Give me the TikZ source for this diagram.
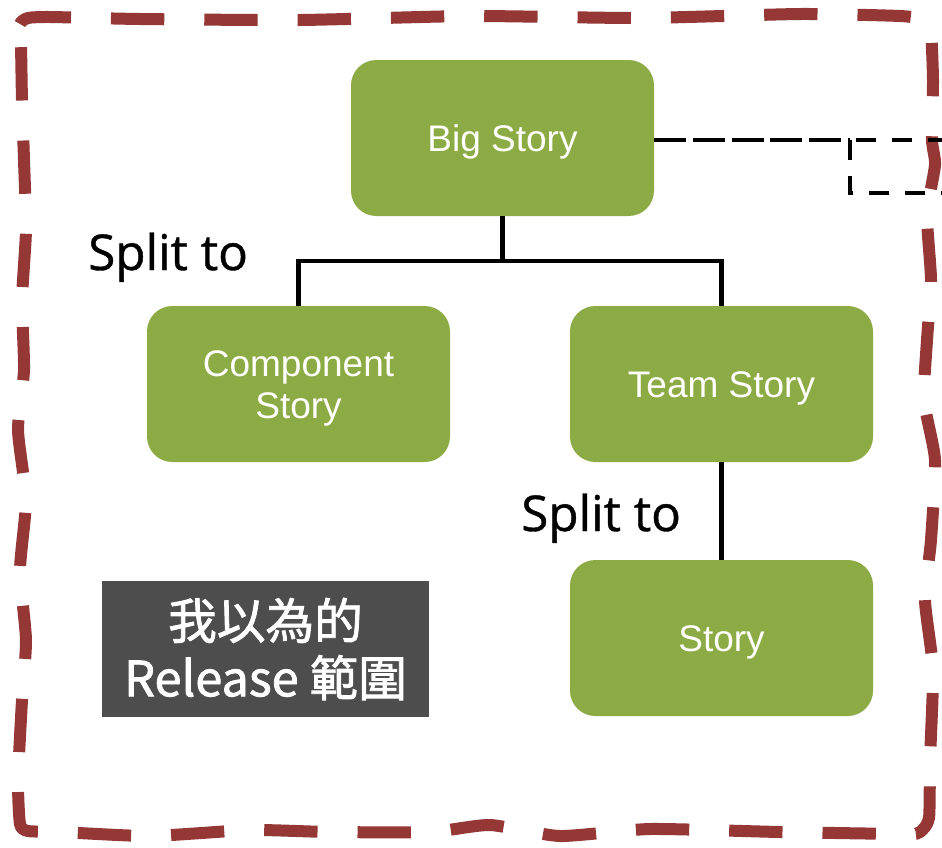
\documentclass[tikz,border=0pt]{standalone}
\usepackage{fontspec}
\setmainfont{Liberation Sans}
\newfontfamily\splitfont[FakeBold=0.8]{Open Sans}
\newfontfamily\cjkfont[FakeBold=1.6]{Noto Sans CJK TC}
\definecolor{storygreen}{HTML}{8CAB44}
\definecolor{borderred}{HTML}{953735}
\definecolor{relgray}{HTML}{4D4D4D}
\tikzset{
  storybox/.style={draw=none, fill=storygreen, rounded corners=19pt, minimum width=227.25pt,
    minimum height=117pt, inner sep=0pt, align=center, text=white,
    text height=19.6pt, text depth=0pt,
    font=\fontsize{27.75}{31.5}\selectfont},
  conn/.style={line width=3.4pt, black},
  dashconn/.style={line width=3.4pt, black, dash pattern=on 24pt off 5pt},
  dashframe/.style={line width=3.4pt, black, dash pattern=on 15pt off 12pt},
  splitlbl/.style={inner sep=0pt, font=\splitfont\fontsize{37}{44}\selectfont},
  relbox/.style={fill=relgray, minimum width=245.25pt, minimum height=102pt, inner sep=0pt,
    align=center, text=white, font=\cjkfont\fontsize{36.5}{43}\selectfont},
  border/.style={line width=9pt, borderred, dash pattern=on 40pt off 30pt}
}
\begin{document}
\begin{tikzpicture}[x=0.75pt,y=-0.75pt]
\useasboundingbox (0,0) rectangle (942,847);
\clip (0,0) rectangle (942,847);
\fill[white] (0,0) rectangle (942,847);

% wobbly release border
\draw[border] plot[smooth cycle, tension=0.35] coordinates {
 (21,45) (20,24) (28,18) (50,17) (140,19) (300,20) (470,16) (640,18) (800,14) (900,16) (926,20) (931,32)
 (933,80) (932,140) (935,165) (927,215) (931,280) (927,340) (924,400) (935,460) (931,540)
 (925,600) (933,670) (930,760) (929,818) (920,832) (905,834) (780,832) (650,829) (560,836) (490,825)
 (430,832) (330,832) (250,830) (150,836) (60,832) (28,831) (20,824) (18,780) (22,700) (26,640)
 (20,570) (26,500) (18,430) (24,370) (22,300) (26,230) (24,160) (22,100)};

% story boxes
\node[storybox] (big)  at (502.5,138) {Big Story};
\node[storybox, text depth=31.5pt] (comp) at (298.5,384)
  {\begin{tabular}[t]{@{}c@{}}Component\\Story\end{tabular}};
\node[storybox] (team) at (721.5,384) {Team Story};
\node[storybox] (story) at (721.5,638) {Story};

% connectors
\coordinate (j) at (502.5,261);
\draw[conn] (big.south) -- (j);
\draw[conn] (comp.north) |- (j) -| (team.north);
\draw[conn] (team.south) -- (story.north);

% dashed link to off-page box
\coordinate (ext) at (850,140);
\coordinate (extfar) at (990,193);
\draw[dashconn] (big.east |- ext) -- (ext);
\draw[dashframe] (ext) rectangle (extfar);

% labels
\node[splitlbl, anchor=base west] (s1) at (88,270) {Split to};
\node[splitlbl, anchor=base west] (s2) at (521,531) {Split to};

\node[relbox] (rel) at (265.5,649) {我以為的\\Release 範圍};
\end{tikzpicture}
\end{document}
